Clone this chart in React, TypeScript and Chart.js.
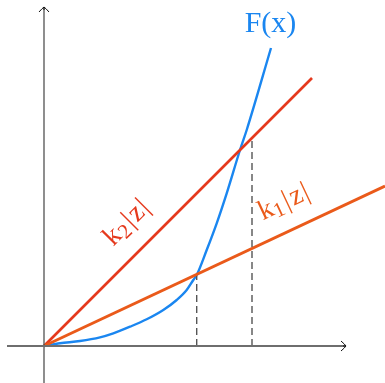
import React, { useEffect, useRef } from "react";
import { Chart, registerables } from "chart.js";

Chart.register(...registerables);

// F(x) curve (data units: x right of origin, y above origin)
const fCurveX = [0, 16, 36, 56, 69.3, 86, 102.7, 119.3, 132.7, 142.7, 149.3, 152.7, 162.7, 172.7, 182.7, 196, 202.7, 227];
const fCurveY = [0, 2.7, 5, 8.7, 12.7, 19.3, 26.7, 36, 46, 56, 66, 71, 96, 122.7, 152.7, 196, 216, 298];

// straight lines k2|z| and k1|z| (endpoints)
const k2LineX = [0, 268];
const k2LineY = [0, 268];
const k1LineX = [0, 341];
const k1LineY = [0, 160];

// dashed markers
const dash1X = [152.7, 152.7];
const dash1Y = [0, 70];
const dash2X = [208, 208];
const dash2Y = [0, 205];

// axes
const xAxisX = [-37, 301];
const xAxisY = [0, 0];
const yAxisX = [0, 0];
const yAxisY = [-37, 338];

const labelF = "F(x)";
const labelK2 = ["k", "2", "|", "z", "|"];
const labelK1 = ["k", "1", "|", "z", "|"];

const zip = (xs: number[], ys: number[]) => xs.map((x, i) => ({ x, y: ys[i] }));

const BLUE = "#1a86f0";
const RED = "#e5391d";
const ORANGE = "#ea5a1a";

export default function App() {
  const ref = useRef<HTMLCanvasElement | null>(null);

  useEffect(() => {
    document.body.style.margin = "0";
    const canvas = ref.current!;
    const overlay = {
      id: "overlay",
      afterDatasetsDraw(chart: any) {
        const ctx = chart.ctx as CanvasRenderingContext2D;
        const xs = chart.scales.x;
        const ys = chart.scales.y;
        const px = (v: number) => xs.getPixelForValue(v);
        const py = (v: number) => ys.getPixelForValue(v);
        ctx.save();
        // arrowheads
        ctx.strokeStyle = "#111";
        ctx.lineWidth = 1;
        const drawArrow = (tx: number, ty: number, angle: number) => {
          ctx.save();
          ctx.translate(tx, ty);
          ctx.rotate(angle);
          ctx.beginPath();
          ctx.moveTo(-5, -5);
          ctx.quadraticCurveTo(-1, -1.5, 0, 0);
          ctx.quadraticCurveTo(-1, 1.5, -5, 5);
          ctx.stroke();
          ctx.beginPath();
          ctx.moveTo(-3, 0);
          ctx.lineTo(0, 0);
          ctx.stroke();
          ctx.restore();
        };
        drawArrow(px(302), py(0), 0);
        drawArrow(px(0), py(339), -Math.PI / 2);

        // F(x) label
        ctx.fillStyle = BLUE;
        ctx.font = "30px 'Liberation Serif', serif";
        ctx.textAlign = "center";
        ctx.textBaseline = "alphabetic";
        ctx.fillText(labelF, px(226.5), py(314));

        const drawSub = (parts: string[], cx: number, cy: number, angle: number, color: string) => {
          ctx.save();
          ctx.translate(cx, cy);
          ctx.rotate(angle);
          ctx.fillStyle = color;
          ctx.textAlign = "left";
          ctx.textBaseline = "alphabetic";
          const big = "28px 'Liberation Serif', serif";
          const small = "21px 'Liberation Serif', serif";
          const fonts = [big, small, big, big, big];
          const offs = [0, 4, 0, 0, 0];
          const gaps = [0, 2, 2, 1, 0];
          const widths = parts.map((p, i) => {
            ctx.font = fonts[i];
            return ctx.measureText(p).width;
          });
          const total = widths.reduce((a, b) => a + b, 0) + gaps.reduce((a, b) => a + b, 0);
          let x = -total / 2;
          parts.forEach((p, i) => {
            ctx.font = fonts[i];
            ctx.fillText(p, x, offs[i]);
            x += widths[i] + gaps[i];
          });
          ctx.restore();
        };
        drawSub(labelK2, px(88), py(118), -Math.PI / 4, RED);
        drawSub(labelK1, px(243), py(137), -Math.atan(160 / 341), ORANGE);
        ctx.restore();
      },
    };

    const chart = new Chart(canvas, {
      type: "line",
      data: {
        datasets: [
          { data: zip(xAxisX, xAxisY), borderColor: "#6e6e6e", borderWidth: 2 },
          { data: zip(yAxisX, yAxisY), borderColor: "#444", borderWidth: 1.2 },
          { data: zip(dash1X, dash1Y), borderColor: "#555", borderWidth: 1.4, borderDash: [7, 4] },
          { data: zip(dash2X, dash2Y), borderColor: "#555", borderWidth: 1.4, borderDash: [7, 4] },
          { data: zip(k1LineX, k1LineY), borderColor: ORANGE, borderWidth: 3 },
          { data: zip(k2LineX, k2LineY), borderColor: RED, borderWidth: 2.6 },
          {
            data: zip(fCurveX, fCurveY),
            borderColor: BLUE,
            borderWidth: 2.4,
            cubicInterpolationMode: "monotone",
          },
        ] as any,
      },
      options: {
        animation: false,
        responsive: false,
        maintainAspectRatio: false,
        layout: { padding: 0 },
        elements: { point: { radius: 0, hoverRadius: 0 }, line: { fill: false } },
        datasets: { line: { clip: false as any, showLine: true } },
        plugins: { legend: { display: false }, tooltip: { enabled: false } },
        events: [],
        scales: {
          x: { type: "linear", min: -44, max: 341, display: false },
          y: { type: "linear", min: -37, max: 346, display: false },
        },
      },
      plugins: [overlay],
    });
    return () => chart.destroy();
  }, []);

  return (
    <div style={{ position: "absolute", left: 0, top: 0, width: 385, height: 383, background: "#fff" }}>
      <canvas ref={ref} width={385} height={383} style={{ width: 385, height: 383 }} />
    </div>
  );
}
